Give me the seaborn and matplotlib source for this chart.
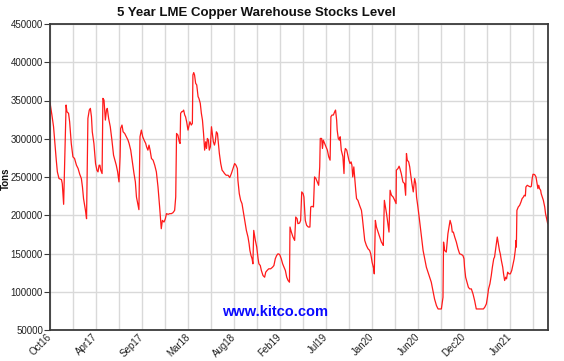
import numpy as np
import pandas as pd
import matplotlib
matplotlib.use('Agg')
import matplotlib.pyplot as plt
import seaborn as sns

# データ: 起点からの日数 と LME銅在庫 (千トン)
start_date = '2016-10-14'
days = [0, 7, 13, 17, 23, 27, 33, 42, 45, 50, 59, 62, 68, 72, 78, 84, 90, 97, 103, 109,
        115, 119, 123, 130, 134, 139, 144, 148, 152, 155, 161, 167, 172, 176, 180, 183, 186, 191, 194, 198,
        203, 207, 210, 215, 221, 227, 233, 238, 243, 248, 253, 257, 259, 264, 268, 274, 280, 286, 290, 296,
        301, 308, 313, 317, 323, 326, 330, 335, 340, 345, 351, 354, 359,
        363, 367, 372, 378, 384, 390, 396, 402, 408, 412, 418, 423, 427, 433, 439, 445, 451, 457, 461, 464,
        469, 474, 477, 479, 483, 486, 490, 494, 497, 501, 506, 510, 513, 518, 522, 524, 527, 530, 534, 538,
        543, 546, 551, 555, 559, 563, 567, 571, 574, 577, 581, 584, 588, 592, 595, 599, 603, 606, 610, 614,
        617, 621, 626, 631, 636, 640, 646, 653, 659, 665, 671, 677, 682, 687, 689, 694, 699, 704, 709, 714, 720,
        726, 730, 733, 737, 741, 744, 747, 750, 753, 758, 763, 766, 771, 775, 781, 787, 791, 796, 802, 809,
        816, 821, 826, 831, 836, 842, 848, 853, 858, 863, 868, 873, 878, 880, 885, 891, 897, 901, 906, 909,
        915, 919, 923, 928, 931, 936, 941, 947, 953, 956, 961, 966, 970, 975, 980, 985, 989, 991, 996, 999,
        1002, 1007, 1012, 1017, 1022, 1027, 1030, 1034, 1039, 1044, 1047, 1051, 1053, 1057, 1061, 1064, 1068,
        1074, 1078, 1080, 1083, 1088,
        1093, 1096, 1100, 1104, 1107, 1110, 1114, 1117, 1121, 1124, 1129, 1135, 1142, 1145, 1150, 1154, 1160,
        1166, 1172, 1176, 1181, 1187, 1189, 1193, 1197, 1203, 1209, 1215, 1219, 1222, 1226, 1230, 1234, 1239,
        1243, 1247, 1252, 1258, 1264, 1269, 1270, 1276, 1280, 1283, 1288, 1294, 1300, 1304, 1307, 1310, 1315,
        1319, 1322, 1327, 1332, 1337, 1341, 1344, 1349, 1355, 1362, 1368, 1374, 1380, 1386, 1392, 1398, 1404,
        1410, 1417, 1423, 1429, 1435, 1441, 1443, 1447, 1453, 1459, 1463,
        1467, 1472, 1475, 1479, 1484, 1490, 1496, 1502, 1508, 1514, 1518, 1520, 1524, 1529, 1534, 1539, 1545,
        1551, 1557, 1563, 1569, 1575, 1582, 1589, 1594, 1600, 1604, 1608, 1613, 1618, 1622, 1627, 1630, 1634,
        1638, 1640, 1644, 1648, 1651, 1655, 1660, 1663, 1667, 1671, 1674, 1678, 1683, 1688, 1693, 1698, 1702,
        1706, 1709, 1710, 1712, 1717, 1722, 1727, 1731, 1736, 1739, 1743, 1745, 1750, 1756, 1762, 1765, 1768,
        1771, 1777, 1782, 1786, 1789, 1792, 1795, 1799, 1801, 1805, 1809, 1814, 1817, 1821, 1825]
stocks_kt = [347.2, 331.0, 315.7, 298.2, 272.0, 256.7, 248.0, 246.6, 241.4, 214.3, 344.1, 335.4, 333.2, 322.2,
             293.8, 276.4, 274.2, 265.4, 261.1, 253.6, 248.0, 237.0, 221.7, 206.4, 195.5, 326.6, 337.5, 339.7,
             328.8, 309.1, 293.8, 267.6, 258.9, 256.7, 265.4, 265.4, 258.9, 254.5, 352.8, 350.6, 324.4, 337.5,
             339.7, 326.6, 315.7, 298.2, 278.5, 272.0, 265.4, 256.7, 243.6, 276.4, 313.5, 317.9, 309.1, 306.9,
             302.6, 298.2, 293.8, 285.1, 272.0, 254.5, 243.6, 223.9, 213.0, 207.3, 302.6, 311.3, 302.6, 298.2,
             293.8, 289.5, 285.1,
             291.7, 285.1, 274.2, 272.0, 265.4, 256.7, 237.0, 210.8, 182.4, 193.3, 191.1, 195.5, 202.1, 201.2,
             202.1, 202.1, 203.4, 206.4, 223.9, 306.9, 304.8, 296.0, 293.8, 333.2, 335.4, 335.4, 337.5, 331.0,
             328.8, 322.2, 311.3, 317.9, 322.2, 317.9, 320.1, 383.4, 386.5, 383.4, 372.5, 370.3, 355.0, 352.8,
             346.3, 333.2, 324.4, 306.9, 285.1, 296.0, 287.3, 300.4, 298.2, 285.1, 289.5, 315.7, 306.9, 296.0,
             291.7, 296.0, 309.1, 306.9, 296.0, 280.7, 267.6, 258.9, 256.7, 254.5, 252.3, 252.3, 249.3, 254.5,
             261.1, 267.6, 265.4, 261.1, 245.8, 228.3, 219.5, 215.2, 204.3, 193.3, 180.2,
             171.5, 162.7, 154.0, 147.4, 143.1, 136.5, 180.2, 173.7, 167.1, 158.4, 143.1, 136.5, 134.3, 127.8,
             121.2, 119.0, 125.6, 127.8, 130.0, 130.0, 132.1, 134.3, 143.1, 147.4, 149.6, 148.8, 143.1, 136.5,
             132.1, 127.8, 119.0, 114.7, 112.5, 184.6, 178.0, 171.5, 167.1, 197.7, 195.5, 189.0, 189.8, 193.3,
             230.5, 228.3, 223.9, 193.3, 186.8, 184.6, 184.6, 210.8, 211.7, 210.8, 250.1, 248.0, 243.6, 239.2,
             263.2, 300.4, 300.4, 287.3, 298.2, 293.8, 289.5, 285.1, 276.4, 272.0, 328.8, 331.0, 331.0, 335.4,
             337.5, 324.4, 311.3, 300.4, 298.2, 302.6, 285.1, 276.4, 254.5, 280.7, 287.3, 285.1,
             277.2, 272.0, 267.6, 269.8, 265.4, 250.1, 263.2, 250.1, 232.7, 221.7, 219.5, 213.0, 206.4, 197.7,
             180.2, 167.1, 160.6, 156.2, 154.0, 149.6, 138.7, 130.0, 123.4, 193.3, 184.6, 178.0, 171.5, 164.9,
             162.7, 160.6, 219.5, 210.8, 202.1, 189.0, 178.0, 232.7, 226.1, 223.9, 219.5, 215.2, 258.9, 261.1,
             264.1, 261.1, 254.5, 243.6, 241.4, 226.1, 280.7, 272.0, 269.8, 263.2, 254.5, 241.4, 230.5, 248.0,
             241.4, 223.9, 210.8, 193.3, 171.5, 154.0, 143.1, 132.1, 125.6, 119.0, 112.5, 101.6, 90.6, 81.9,
             77.5, 77.5, 77.5, 92.8, 164.9, 154.0, 151.8, 175.8, 184.6,
             193.3, 186.8, 178.0, 178.0, 171.5, 164.9, 156.2, 149.6, 148.8, 147.4, 143.1, 132.1, 119.0, 112.5,
             105.9, 103.7, 103.7, 97.2, 88.4, 77.5, 77.5, 77.5, 77.5, 77.5, 79.7, 84.1, 92.8, 103.7, 110.3,
             121.2, 132.1, 143.1, 145.3, 156.2, 167.1, 171.5, 162.7, 154.0, 149.6, 140.9, 132.1, 123.4, 114.7,
             119.0, 116.9, 125.6, 123.4, 123.4, 127.8, 136.5, 143.1, 154.0, 167.1, 158.4, 206.4, 210.8, 213.0,
             217.4, 221.7, 223.9, 226.1, 225.2, 237.0, 239.2, 237.9, 237.0, 237.9, 248.0, 253.6, 253.2, 250.1,
             241.4, 234.8, 239.2, 234.8, 232.7, 228.3, 223.9, 219.5, 210.8, 202.1, 195.5, 188.9]
tick_labels = ['Oct16', 'Apr17', 'Sep17', 'Mar18', 'Aug18', 'Feb19', 'Jul19',
               'Jan20', 'Jun20', 'Dec20', 'Jun21']
title = '5 Year LME Copper Warehouse Stocks Level'

start = pd.Timestamp(start_date)
df = pd.DataFrame({'date': start + pd.to_timedelta(days, unit='D'),
                   'tons': np.array(stocks_kt) * 1000})

sns.set_theme(style='whitegrid')
plt.rcParams['font.family'] = ['Liberation Sans', 'DejaVu Sans']

fig = plt.figure(figsize=(5.64, 3.61), dpi=100)
ax = fig.add_axes([50 / 564, 31 / 361, 498 / 564, 306 / 361])

sns.lineplot(data=df, x='date', y='tons', color='#ff1a1a', linewidth=0.9,
             estimator=None, ax=ax)

# 軸
ax.set_ylim(50000, 450000)
ax.set_yticks(np.arange(50000, 450001, 50000))
ax.set_yticklabels([str(v) for v in range(50000, 450001, 50000)])
grid_pos = [start + pd.Timedelta(days=k * 84.33) for k in range(22)]
ax.set_xlim(start, start + pd.Timedelta(days=1826))
ax.set_xticks(grid_pos)
ax.set_xticklabels([tick_labels[k // 2] if k % 2 == 0 else '' for k in range(22)])
ax.set_xlabel('')
ax.set_ylabel('')

ax.grid(True, color='#d9d9d9', linewidth=1.0)
for s in ax.spines.values():
    s.set_color('#3a3a3a')
    s.set_linewidth(1.3)
ax.tick_params(axis='y', labelsize=7, labelcolor='#222222', length=4, width=0.8,
               color='#3a3a3a', pad=1, left=True)
ax.tick_params(axis='x', labelsize=7, labelcolor='#222222', length=0, pad=4)
plt.setp(ax.get_xticklabels(), rotation=45, ha='right', va='center', rotation_mode='anchor')

fig.text(256 / 564, 1 - 13 / 361, title, ha='center', va='center',
         fontsize=9.5, fontweight='bold', color='#111111')
fig.text(6 / 564, 1 - 179 / 361, 'Tons', ha='center', va='center', rotation=90,
         fontsize=7, fontweight='bold', color='#111111')
fig.text(275.5 / 564, 1 - 312.5 / 361, 'www.kitco.com', ha='center', va='center',
         fontsize=10.5, fontweight='bold', color='#0a0aff')

fig.savefig('out.png', dpi=100)
